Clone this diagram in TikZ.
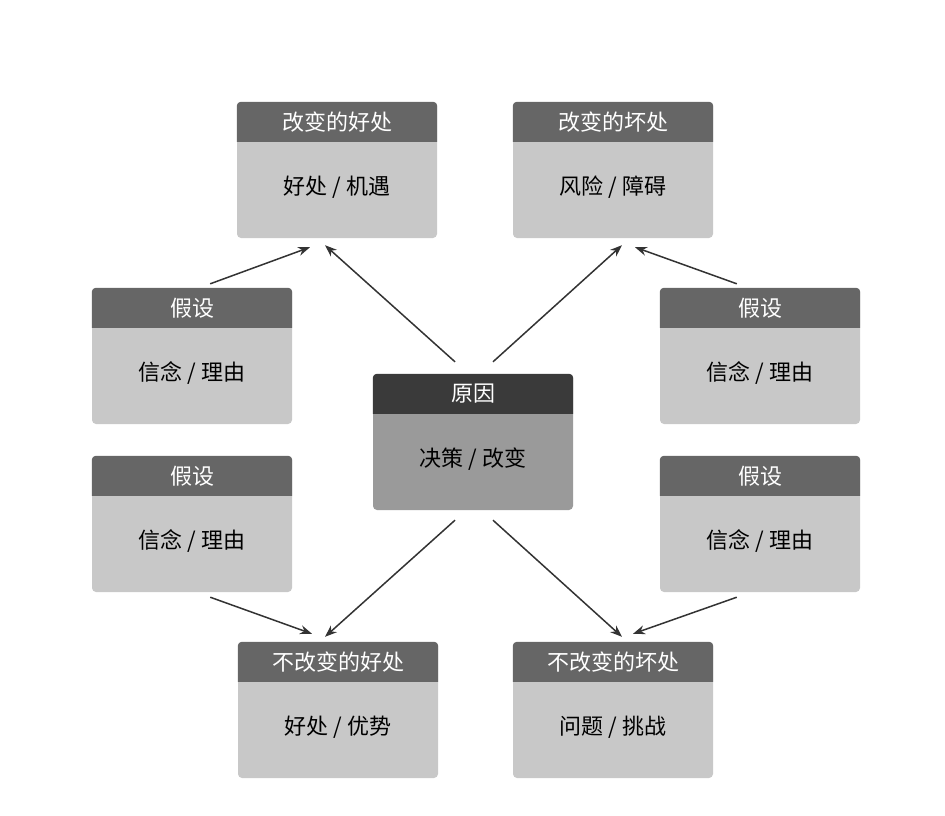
\documentclass[tikz,border=0pt]{standalone}
\usepackage{fontspec}
\newfontfamily\cjk{Noto Sans CJK SC}
\usetikzlibrary{calc,arrows.meta}
\definecolor{headgray}{HTML}{666666}
\definecolor{bodygray}{HTML}{C8C8C8}
\definecolor{headdark}{HTML}{3A3A3A}
\definecolor{bodydark}{HTML}{9A9A9A}
\definecolor{arrowgray}{HTML}{333333}
\tikzset{
  boxbody/.style={minimum width=200pt, minimum height=136pt, rounded corners=4pt, inner sep=0pt},
  headtext/.style={text=white, font=\cjk\fontsize{22}{26}\selectfont},
  bodytext/.style={text=black, font=\cjk\fontsize{22}{26}\selectfont},
  arr/.style={arrowgray, line width=1.5pt, -{Stealth[length=12pt,width=9pt]}}
}
% box: name, position, title, body text, header colour, body colour
\newcommand\gbox[6]{%
  \node[boxbody, fill=#6] (#1) at #2 {};
  \fill[#5] ([yshift=-40pt]#1.north west) [rounded corners=4pt] -- (#1.north west) -- (#1.north east) [sharp corners] -- ([yshift=-40pt]#1.north east) -- cycle;
  \node[headtext] (#1t) at ([yshift=-20pt]#1.north) {#3};
  \node[bodytext] (#1b) at ([yshift=-85pt]#1.north) {#4};
}
\begin{document}
\begin{tikzpicture}[x=1pt, y=-1pt]
\useasboundingbox (0,0) rectangle (945,815);
% Boxes
\gbox{tl}{(337,170)}{改变的好处}{好处 / 机遇}{headgray}{bodygray}
\gbox{tr}{(613,170)}{改变的坏处}{风险 / 障碍}{headgray}{bodygray}
\gbox{lone}{(192,356)}{假设}{信念 / 理由}{headgray}{bodygray}
\gbox{ltwo}{(192,524)}{假设}{信念 / 理由}{headgray}{bodygray}
\gbox{rone}{(760,356)}{假设}{信念 / 理由}{headgray}{bodygray}
\gbox{rtwo}{(760,524)}{假设}{信念 / 理由}{headgray}{bodygray}
\gbox{c}{(473,442)}{原因}{决策 / 改变}{headdark}{bodydark}
\gbox{bl}{(338,710)}{不改变的好处}{好处 / 优势}{headgray}{bodygray}
\gbox{br}{(613,710)}{不改变的坏处}{问题 / 挑战}{headgray}{bodygray}
% Arrows
\draw[arr] ($(c.north)+(-18,-12)$) -- ($(tl.south)+(-12,7)$);
\draw[arr] ($(lone.north east)+(-82,-4)$) -- ($(tl.south)+(-27,9)$);
\draw[arr] ($(c.north)+(20,-12)$) -- ($(tr.south)+(9,7)$);
\draw[arr] ($(rone.north west)+(77,-4)$) -- ($(tr.south)+(22,9)$);
\draw[arr] ($(c.south)+(-18,10)$) -- ($(bl.north)+(-13,-5)$);
\draw[arr] ($(ltwo.south east)+(-82,5)$) -- ($(bl.north)+(-26,-8)$);
\draw[arr] ($(c.south)+(20,10)$) -- ($(br.north)+(9,-5)$);
\draw[arr] ($(rtwo.south west)+(77,5)$) -- ($(br.north)+(20,-8)$);
\end{tikzpicture}
\end{document}
